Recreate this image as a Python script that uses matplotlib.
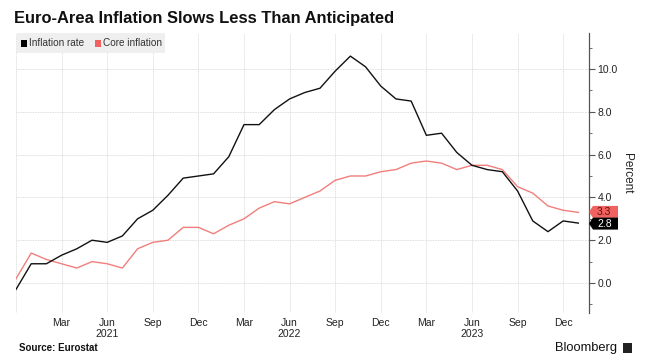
import matplotlib
matplotlib.use("Agg")
import matplotlib.pyplot as plt
from matplotlib.patches import Rectangle, Polygon
from matplotlib.ticker import MultipleLocator

# Data: Dec 2020 .. Jan 2024 (monthly)
months = ["Dec 2020", "Jan 2021", "Feb 2021", "Mar 2021", "Apr 2021", "May 2021", "Jun 2021",
          "Jul 2021", "Aug 2021", "Sep 2021", "Oct 2021", "Nov 2021", "Dec 2021",
          "Jan 2022", "Feb 2022", "Mar 2022", "Apr 2022", "May 2022", "Jun 2022",
          "Jul 2022", "Aug 2022", "Sep 2022", "Oct 2022", "Nov 2022", "Dec 2022",
          "Jan 2023", "Feb 2023", "Mar 2023", "Apr 2023", "May 2023", "Jun 2023",
          "Jul 2023", "Aug 2023", "Sep 2023", "Oct 2023", "Nov 2023", "Dec 2023", "Jan 2024"]
inflation_rate = [-0.3, 0.9, 0.9, 1.3, 1.6, 2.0, 1.9, 2.2, 3.0, 3.4, 4.1, 4.9, 5.0,
                  5.1, 5.9, 7.4, 7.4, 8.1, 8.6, 8.9, 9.1, 9.9, 10.6, 10.1, 9.2,
                  8.6, 8.5, 6.9, 7.0, 6.1, 5.5, 5.3, 5.2, 4.3, 2.9, 2.4, 2.9, 2.8]
core_inflation = [0.2, 1.4, 1.1, 0.9, 0.7, 1.0, 0.9, 0.7, 1.6, 1.9, 2.0, 2.6, 2.6,
                  2.3, 2.7, 3.0, 3.5, 3.8, 3.7, 4.0, 4.3, 4.8, 5.0, 5.0, 5.2,
                  5.3, 5.6, 5.7, 5.6, 5.3, 5.5, 5.5, 5.3, 4.5, 4.2, 3.6, 3.4, 3.3]
tick_positions = [3, 6, 9, 12, 15, 18, 21, 24, 27, 30, 33, 36]
tick_labels = ["Mar", "Jun\n2021", "Sep", "Dec", "Mar", "Jun\n2022", "Sep", "Dec",
               "Mar", "Jun\n2023", "Sep", "Dec"]
y_ticks = [0.0, 2.0, 4.0, 6.0, 8.0, 10.0]

BLACK = "#111111"
RED = "#f07f7c"
RED_BOX = "#f0625f"
plt.rcParams["font.family"] = ["Liberation Sans", "DejaVu Sans"]

W, H = 647, 364
fig = plt.figure(figsize=(W / 100, H / 100), dpi=100)
fig.patch.set_facecolor("white")

L, R, T, B = 16, 589, 33, 313
ax = fig.add_axes([L / W, 1 - B / H, (R - L) / W, (B - T) / H])

x = list(range(len(months)))
ax.plot(x, core_inflation, color=RED, lw=1.0, zorder=3)
ax.plot(x, inflation_rate, color=BLACK, lw=1.0, zorder=4)

ax.set_xlim(0, 37.7)
ax.set_ylim(-1.4, 11.68)

ax.set_xticks([0] + tick_positions)
ax.set_xticklabels([""] + tick_labels, fontsize=7.5, color="#222222", linespacing=1.1)
ax.tick_params(axis="x", length=0, pad=3.5)

ax.yaxis.tick_right()
ax.set_yticks(y_ticks)
ax.set_yticklabels([f"{v:.1f}" for v in y_ticks], fontsize=7.5, color="#222222")
ax.yaxis.set_minor_locator(MultipleLocator(1.0))
ax.tick_params(axis="y", which="major", length=4, width=0.8, color="#555555", pad=2)
ax.tick_params(axis="y", which="minor", length=2, width=0.6, color="#555555")

ax.grid(True, which="major", color="#d4d4d4", lw=0.6, ls=(0, (1, 1)))
for s in ["top", "left", "bottom"]:
    ax.spines[s].set_visible(False)
ax.spines["right"].set_color("#555555")
ax.spines["right"].set_linewidth(0.9)

ax.yaxis.set_label_position("right")
ax.set_ylabel("Percent", rotation=270, fontsize=8.5, color="#222222", labelpad=11)

# End labels (value tags with a small arrow pointing to the axis)
def to_px(yval):
    return ax.transData.transform((0, yval))[1]

def tag(value, fc, tc, yshift_px=0):
    ypx = to_px(value) + yshift_px
    x0, x1 = 593, 618
    h = 6
    poly = Polygon([(589, ypx), (x0, ypx + h), (x1, ypx + h), (x1, ypx - h), (x0, ypx - h)],
                   closed=True, transform=None, fc=fc, ec="none", zorder=7)
    fig.add_artist(poly)
    fig.text((x0 + 4) / W, ypx / H, f"{value:.1f}", fontsize=7.5, color=tc,
             ha="left", va="center", zorder=8)

tag(core_inflation[-1], RED_BOX, "#5a1010", 0.5)
tag(inflation_rate[-1], "black", "white", -0.5)

# Legend
fig.add_artist(Rectangle((17 / W, 1 - 53 / H), 148 / W, 20 / H, transform=fig.transFigure,
                         fc="#efefef", ec="none", zorder=5))
fig.add_artist(Rectangle((21 / W, 1 - 46.5 / H), 6 / W, 6 / H, transform=fig.transFigure,
                         fc="black", ec="none", zorder=6))
fig.text(29 / W, 1 - 43.5 / H, "Inflation rate", fontsize=7.2, color="#333333",
         va="center", ha="left", zorder=6)
fig.add_artist(Rectangle((95 / W, 1 - 46.5 / H), 6 / W, 6 / H, transform=fig.transFigure,
                         fc=RED_BOX, ec="none", zorder=6))
fig.text(103 / W, 1 - 43.5 / H, "Core inflation", fontsize=7.2, color="#333333",
         va="center", ha="left", zorder=6)

# Title and footer
fig.text(14 / W, 1 - 19 / H, "Euro-Area Inflation Slows Less Than Anticipated",
         fontsize=11.9, fontweight="bold", color="#111111", va="center", ha="left")
fig.text(19 / W, 1 - 348 / H, "Source: Eurostat", fontsize=7.0, fontweight="bold",
         color="#111111", va="center", ha="left")
fig.text(617 / W, 1 - 348 / H, "Bloomberg", fontsize=9.3, fontweight="normal",
         color="#111111", va="center", ha="right")
fig.add_artist(Rectangle((623 / W, 1 - 353 / H), 9 / W, 10 / H, transform=fig.transFigure,
                         fc="#222222", ec="none"))

fig.savefig("out.png", dpi=100)
